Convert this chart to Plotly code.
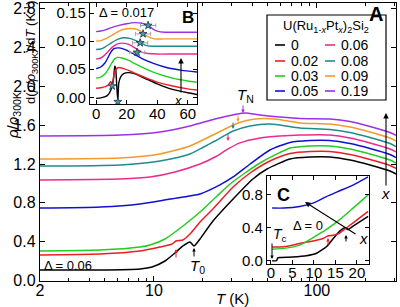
import math
import plotly.graph_objects as go

# ---------------- data ----------------
x_labels = ["0", "0.02", "0.03", "0.05", "0.06", "0.08", "0.09", "0.19"]
colors = ["#000000", "#ee1c25", "#22cc22", "#1010d0", "#ee2a8a", "#1e8c8c", "#f39a2c", "#9b30e8"]

# Panel A: rho/rho300K (offset by 0.06) vs T (K)
T_a0 = [2.0, 4.67, 8.21, 9.73, 11.69, 13.47, 15.07, 16.64, 17.62, 19.18, 23.03, 30.6, 40.5, 49.4, 68.4, 90.6, 120.2, 159.6, 211.7, 280.7, 305.6]
r_a0 = [0.108, 0.108, 0.119, 0.139, 0.201, 0.284, 0.356, 0.397, 0.356, 0.428, 0.613, 0.840, 1.046, 1.149, 1.253, 1.273, 1.273, 1.242, 1.191, 1.129, 1.098]
T_a1 = [2.0, 4.67, 8.21, 10.89, 12.91, 13.65, 15.07, 16.64, 19.18, 23.03, 30.6, 38.9, 51.5, 68.4, 90.6, 120.2, 159.6, 211.7, 280.7, 305.6]
r_a1 = [0.263, 0.273, 0.304, 0.345, 0.376, 0.407, 0.418, 0.479, 0.603, 0.737, 0.963, 1.108, 1.232, 1.309, 1.330, 1.330, 1.299, 1.247, 1.186, 1.155]
T_a2 = [2.0, 4.67, 8.21, 9.46, 11.69, 15.07, 19.18, 24.4, 29.3, 36.2, 44.8, 55.3, 68.4, 90.6, 120.2, 159.6, 211.7, 280.7, 305.6]
r_a2 = [0.304, 0.314, 0.345, 0.366, 0.428, 0.562, 0.706, 0.871, 0.995, 1.108, 1.211, 1.294, 1.366, 1.387, 1.387, 1.356, 1.304, 1.242, 1.211]
T_a3 = [2.0, 4.67, 8.21, 12.55, 19.18, 25.4, 30.6, 38.9, 51.5, 68.4, 90.6, 120.2, 159.6, 211.7, 280.7, 305.6]
r_a3 = [0.747, 0.758, 0.789, 0.840, 0.892, 0.985, 1.067, 1.201, 1.345, 1.423, 1.443, 1.443, 1.412, 1.361, 1.299, 1.268]
T_a4 = [2.0, 6.19, 9.46, 13.47, 19.18, 23.7, 28.5, 33.7, 44.8, 59.3, 78.7, 120.2, 159.6, 211.7, 280.7, 305.6]
r_a4 = [1.036, 1.046, 1.067, 1.119, 1.201, 1.273, 1.356, 1.418, 1.469, 1.490, 1.500, 1.500, 1.469, 1.418, 1.356, 1.325]
T_a5 = [2.0, 6.19, 10.89, 16.64, 23.7, 30.6, 38.9, 51.5, 78.7, 120.2, 159.6, 211.7, 280.7, 305.6]
r_a5 = [1.180, 1.191, 1.232, 1.304, 1.438, 1.541, 1.593, 1.613, 1.572, 1.557, 1.526, 1.474, 1.412, 1.381]
T_a6 = [2.0, 6.19, 10.89, 16.64, 23.7, 32.8, 41.7, 55.3, 78.7, 120.2, 159.6, 211.7, 280.7, 305.6]
r_a6 = [1.253, 1.263, 1.304, 1.387, 1.510, 1.624, 1.665, 1.665, 1.624, 1.613, 1.582, 1.531, 1.469, 1.438]
T_a7 = [2.0, 6.19, 10.89, 16.64, 23.7, 31.4, 36.2, 44.8, 59.3, 78.7, 120.2, 159.6, 211.7, 280.7, 305.6]
r_a7 = [1.490, 1.500, 1.531, 1.593, 1.665, 1.711, 1.727, 1.706, 1.686, 1.670, 1.665, 1.639, 1.588, 1.526, 1.495]

# Panel B: d(rho/rho300K)/dT (offset 0.017) vs T (K)
T_b0 = [0, 3, 6, 8, 9.5, 10.5, 11.5, 12.2, 12.8, 13.5, 14.2, 14.8, 16, 18, 21, 25, 30, 35, 40, 50, 60, 66]
d_b0 = [-0.002, -0.001, 0.001, 0.005, 0.012, 0.020, 0.035, 0.056, 0.052, 0.020, -0.008, 0.025, 0.036, 0.042, 0.044, 0.042, 0.036, 0.030, 0.024, 0.014, 0.008, 0.005]
T_b1 = [0, 3, 6, 8, 9.5, 10.5, 11.5, 13, 15, 18, 22, 27, 33, 40, 50, 60, 66]
d_b1 = [0.016, 0.017, 0.019, 0.022, 0.028, 0.021, 0.038, 0.050, 0.053, 0.051, 0.047, 0.041, 0.034, 0.027, 0.020, 0.015, 0.013]
T_b2 = [0, 3, 6, 8, 10, 12, 14, 17, 21, 26, 32, 40, 50, 60, 66]
d_b2 = [0.034, 0.036, 0.042, 0.050, 0.060, 0.068, 0.071, 0.070, 0.066, 0.059, 0.051, 0.042, 0.034, 0.029, 0.027]
T_b3 = [0, 3, 6, 8, 10, 12, 15, 19, 24, 30, 38, 46, 56, 66]
d_b3 = [0.051, 0.054, 0.062, 0.072, 0.082, 0.087, 0.088, 0.085, 0.078, 0.069, 0.060, 0.053, 0.048, 0.045]
T_b4 = [0, 3, 6, 9, 12, 15, 19, 23, 27, 30, 34, 40, 50, 60, 66]
d_b4 = [0.068, 0.070, 0.076, 0.085, 0.092, 0.096, 0.096, 0.092, 0.085, 0.080, 0.078, 0.077, 0.077, 0.077, 0.077]
T_b5 = [0, 3, 6, 10, 14, 18, 22, 26, 29, 32, 36, 42, 50, 60, 66]
d_b5 = [0.085, 0.086, 0.090, 0.097, 0.103, 0.106, 0.105, 0.101, 0.097, 0.093, 0.091, 0.091, 0.091, 0.091, 0.091]
T_b6 = [0, 3, 6, 10, 15, 20, 25, 29, 31, 34, 38, 44, 52, 60, 66]
d_b6 = [0.100, 0.101, 0.104, 0.110, 0.118, 0.122, 0.122, 0.118, 0.113, 0.108, 0.104, 0.104, 0.104, 0.104, 0.104]
T_b7 = [0, 3, 6, 10, 15, 20, 25, 30, 34, 37, 40, 45, 52, 60, 66]
d_b7 = [0.117, 0.118, 0.120, 0.124, 0.128, 0.131, 0.133, 0.132, 0.128, 0.122, 0.118, 0.116, 0.116, 0.116, 0.116]
T_star_low = [10.5, 14.2]
d_star_low = [0.020, -0.008]
T_star_N = [26.8, 28.8, 30.7, 34.0]
d_star_N = [0.080, 0.097, 0.113, 0.128]
T_star_err = [5, 5, 5, 5]

# Panel C: rho/rho300K (no offset), low T
T_c0 = [0.3, 1.3, 1.6, 2.1, 5, 8.3, 10.6, 12.9, 14.5, 16, 17.2, 17.9, 19.1, 22.6]
r_c0 = [0.0, 0.0, 0.035, 0.04, 0.045, 0.06, 0.09, 0.17, 0.27, 0.36, 0.40, 0.38, 0.42, 0.54]
T_c1 = [0.3, 3, 6.7, 9.8, 12.1, 13.2, 14.5, 15.8, 16.8, 19.1, 22.6]
r_c1 = [0.166, 0.17, 0.21, 0.24, 0.27, 0.30, 0.31, 0.33, 0.37, 0.46, 0.60]
T_c2 = [0.3, 3, 6.7, 9.8, 12.9, 16, 19.1, 22.6]
r_c2 = [0.14, 0.15, 0.19, 0.28, 0.38, 0.50, 0.64, 0.80]
T_c3 = [0.3, 3, 6.7, 9.8, 12.9, 16, 19.1, 22.6]
r_c3 = [0.64, 0.64, 0.66, 0.70, 0.78, 0.85, 0.92, 1.02]

main_T = [T_a0, T_a1, T_a2, T_a3, T_a4, T_a5, T_a6, T_a7]
main_r = [r_a0, r_a1, r_a2, r_a3, r_a4, r_a5, r_a6, r_a7]
b_T = [T_b0, T_b1, T_b2, T_b3, T_b4, T_b5, T_b6, T_b7]
b_d = [d_b0, d_b1, d_b2, d_b3, d_b4, d_b5, d_b6, d_b7]
c_T = [T_c0, T_c1, T_c2, T_c3]
c_r = [r_c0, r_c1, r_c2, r_c3]

# ---------------- layout helpers ----------------
W, H = 400, 307
ML, MR, MT, MB = 40, 4, 3, 26
PW, PH = W - ML - MR, H - MT - MB


def px(x):
    return (x - ML) / PW


def py(y):
    return (H - MB - y) / PH


FONT = "Arial, Liberation Sans, sans-serif"
fig = go.Figure()

for i in range(8):
    fig.add_trace(go.Scatter(x=main_T[i], y=main_r[i], mode="lines", xaxis="x", yaxis="y",
                             line=dict(color=colors[i], width=1.5, shape="spline", smoothing=0.6),
                             showlegend=False, hoverinfo="skip"))
for i in range(8):
    fig.add_trace(go.Scatter(x=b_T[i], y=b_d[i], mode="lines", xaxis="x2", yaxis="y2",
                             line=dict(color=colors[i], width=1.4, shape="spline", smoothing=0.4),
                             showlegend=False, hoverinfo="skip"))
fig.add_trace(go.Scatter(x=T_star_N, y=d_star_N, mode="markers", xaxis="x2", yaxis="y2",
                         marker=dict(symbol="star", size=6, color="#3aa6a6", line=dict(color="#203050", width=0.8)),
                         error_x=dict(type="data", array=T_star_err, color="#a0a0a0", thickness=1, width=2),
                         showlegend=False, hoverinfo="skip"))
fig.add_trace(go.Scatter(x=T_star_low, y=d_star_low, mode="markers", xaxis="x2", yaxis="y2",
                         marker=dict(symbol="star", size=6, color="#3aa6a6", line=dict(color="#203050", width=0.8)),
                         showlegend=False, hoverinfo="skip"))
for j in range(4):
    fig.add_trace(go.Scatter(x=c_T[j], y=c_r[j], mode="lines", xaxis="x3", yaxis="y3",
                             line=dict(color=colors[j], width=1.5, shape="spline", smoothing=0.5),
                             showlegend=False, hoverinfo="skip"))

axis_common = dict(showline=True, linecolor="black", linewidth=1.2, mirror="ticks", ticks="inside",
                   tickcolor="black", showgrid=False, zeroline=False, automargin=False)

fig.update_layout(
    width=W, height=H, margin=dict(l=ML, r=MR, t=MT, b=MB, autoexpand=False),
    paper_bgcolor="white", plot_bgcolor="white", showlegend=False,
    font=dict(family=FONT, color="black"),
    xaxis=dict(type="log", range=[math.log10(2), math.log10(305.6)], domain=[0, 1], anchor="y",
               tickvals=[2, 10, 100], ticktext=["2", "10", "100"], ticklen=5,
               tickfont=dict(size=16), ticklabelstandoff=-5,
               minor=dict(tickmode="array", tickvals=[3, 4, 5, 6, 7, 8, 9, 20, 30, 40, 50, 60, 70, 80, 90, 200, 300],
                          ticks="inside", ticklen=3, tickcolor="black"),
               **axis_common),
    yaxis=dict(range=[-0.005, 2.86], domain=[0, 1], anchor="x",
               tickvals=[0, 0.4, 0.8, 1.2, 1.6, 2.0, 2.4, 2.8],
               ticktext=["0.0", "0.4", "0.8", "1.2", "1.6", "2.0", "2.4", "2.8"],
               ticklen=5, tickfont=dict(size=16), **axis_common),
    xaxis2=dict(range=[-4, 66], domain=[px(90), px(197)], anchor="y2",
                tickvals=[0, 20, 40, 60], ticklen=4, tickfont=dict(size=15), ticklabelstandoff=-4,
                **axis_common),
    yaxis2=dict(range=[-0.012, 0.168], domain=[py(104), 1.0], anchor="x2",
                tickvals=[0, 0.05, 0.10, 0.15], ticktext=["0.00", "0.05", "0.10", "0.15"],
                ticklen=4, tickfont=dict(size=15), **axis_common),
    xaxis3=dict(range=[-0.9, 22.8], domain=[px(267), px(369)], anchor="y3",
                tickvals=[0, 5, 10, 15, 20], ticklen=4, tickfont=dict(size=15), ticklabelstandoff=-5,
                **axis_common),
    yaxis3=dict(range=[-0.04, 1.03], domain=[py(264), py(176)], anchor="x3",
                tickvals=[0, 0.4, 0.8], ticktext=["0.0", "0.4", "0.8"],
                ticklen=4, tickfont=dict(size=15), **axis_common),
)

ann = []
shapes = []


def text(x, y, s, size=14, angle=0, bold=False, xanchor="center"):
    ann.append(dict(x=px(x), y=py(y), xref="paper", yref="paper", text=("<b>%s</b>" % s) if bold else s,
                    showarrow=False, textangle=angle, xanchor=xanchor, yanchor="middle",
                    font=dict(size=size, family=FONT, color="black")))


def arrow(x0, y0, x1, y1, color="black", width=1.1, size=0.8, head=2):
    # tail (x0,y0) -> tip (x1,y1), pixel coords
    ann.append(dict(x=px(x1), y=py(y1), xref="paper", yref="paper", ax=x0 - x1, ay=y0 - y1,
                    axref="pixel", ayref="pixel", text="", showarrow=True, arrowhead=head,
                    arrowsize=size, arrowwidth=width, arrowcolor=color))


# axis titles
text(232, 298, "<i>T</i> (K)", 15)
text(13, 116, "<i>ρ</i>/<i>ρ</i><sub>300K</sub>", 15, angle=-90)
text(31, 52, "d(<i>ρ</i>/<i>ρ</i><sub>300K</sub>)/d<i>T</i> (K<sup>-1</sup>)", 13, angle=-90)

# panel labels
text(376, 14, "A", 20, bold=True)
text(188, 17, "B", 17, bold=True)
text(283, 195, "C", 18, bold=True)

# Delta labels
text(42, 265, "Δ = 0.06", 13, xanchor="left")
text(97, 12, "Δ = 0.017", 13, xanchor="left")
text(291, 225, "Δ = 0", 13, xanchor="left")

# T_N, T_0, T_c
text(245, 95, "<i>T</i><sub>N</sub>", 15)
arrow(243, 104, 243, 113, colors[7], 1, 0.7)
arrow(238, 114, 238, 122, colors[6], 1, 0.7)
arrow(233, 121, 233, 129, colors[5], 1, 0.7)
arrow(228, 133, 228, 141, colors[4], 1, 0.7)
text(197, 266, "<i>T</i><sub>0</sub>", 15)
arrow(194, 258, 194, 248, "black", 1, 0.7)
arrow(176, 259, 176, 249, colors[1], 1, 0.7)
text(280, 235, "<i>T</i><sub>c</sub>", 14)
arrow(272, 242, 272, 259, "black", 1, 0.7)
arrow(328, 247, 328, 238, colors[1], 1, 0.7)
arrow(346, 243, 346, 235, "black", 1, 0.7)

# x arrows
arrow(386, 187, 386, 113, "black", 1.1, 1)
text(385, 193, "<i>x</i>", 15)
arrow(181, 94, 181, 58, "black", 1.1, 1)
text(178, 100, "<i>x</i>", 13)
arrow(357, 235, 305, 202, "black", 1.1, 1)
text(363, 238, "<i>x</i>", 15)

# legend (drawn manually: two columns)
shapes.append(dict(type="rect", xref="paper", yref="paper", x0=px(267), x1=px(386), y0=py(100), y1=py(15),
                   line=dict(color="black", width=1.2), fillcolor="white", layer="above"))
text(326, 26, "U(Ru<sub>1-<i>x</i></sub>Pt<sub><i>x</i></sub>)<sub>2</sub>Si<sub>2</sub>", 13)
rows = [45, 61, 76, 91]
for i in range(8):
    col = i // 4
    r = rows[i % 4]
    lx = 275 if col == 0 else 325
    shapes.append(dict(type="line", xref="paper", yref="paper", x0=px(lx), x1=px(lx + 10), y0=py(r), y1=py(r),
                       line=dict(color=colors[i], width=1.6), layer="above"))
    text(lx + 14, r, x_labels[i], 14, xanchor="left")

fig.update_layout(annotations=ann, shapes=shapes)
fig.write_html("out.html", config={"displayModeBar": False, "staticPlot": True},
               post_script="document.body.style.margin='0px';")
